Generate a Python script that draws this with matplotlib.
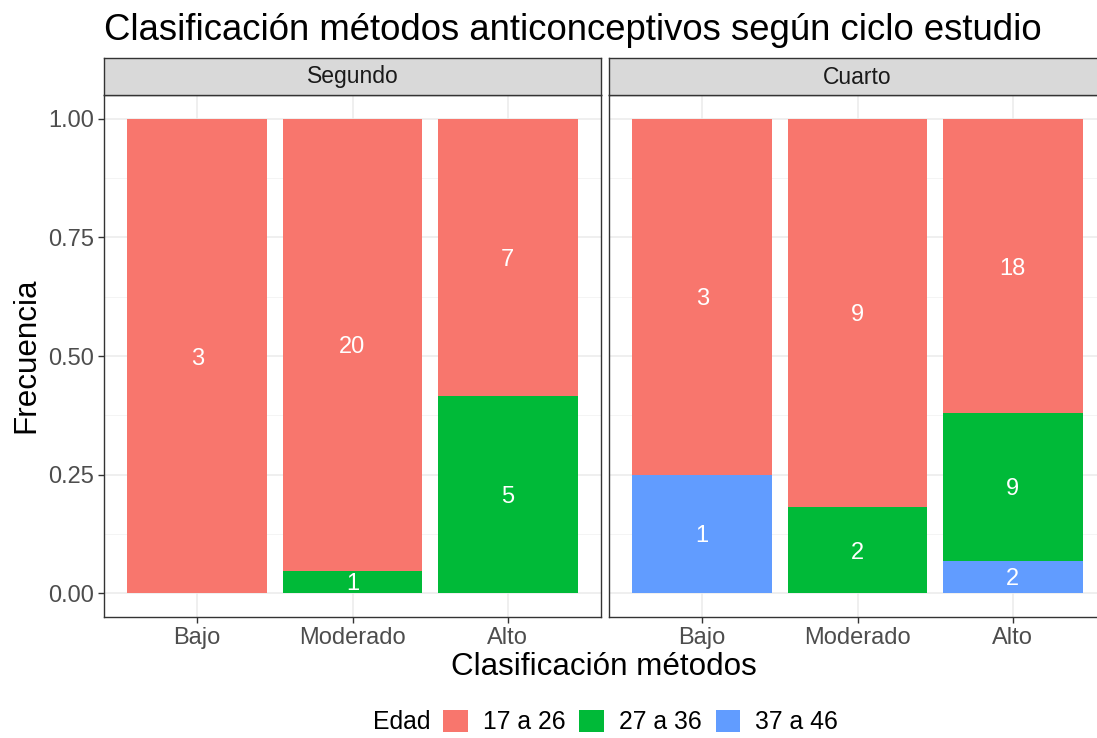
import matplotlib
matplotlib.use("Agg")
import matplotlib.pyplot as plt
from matplotlib.patches import Patch
import numpy as np

plt.rcParams['font.family'] = ['Liberation Sans', 'DejaVu Sans']

panels = ["Segundo", "Cuarto"]
categories = ["Bajo", "Moderado", "Alto"]
groups = ["17 a 26", "27 a 36", "37 a 46"]
colors = ["#F8766D", "#00BA38", "#619CFF"]

# counts per category (Bajo, Moderado, Alto)
seg_17_26 = [3, 20, 7]
seg_27_36 = [0, 1, 5]
seg_37_46 = [0, 0, 0]
cua_17_26 = [3, 9, 18]
cua_27_36 = [0, 2, 9]
cua_37_46 = [1, 0, 2]

counts = {
    "Segundo": [seg_17_26, seg_27_36, seg_37_46],
    "Cuarto": [cua_17_26, cua_27_36, cua_37_46],
}

W, H = 1097, 738
fig = plt.figure(figsize=(W / 100, H / 100), dpi=100)

panel_top, panel_bot = 95, 617
strip_top = 57.5
lefts = [104, 609]
pw = 497

for pi, name in enumerate(panels):
    ax = fig.add_axes([lefts[pi] / W, 1 - panel_bot / H, pw / W, (panel_bot - panel_top) / H])
    ax.set_xlim(0.4, 3.6)
    ax.set_ylim(-0.05, 1.05)
    ax.set_facecolor("white")
    for y in [0.125, 0.375, 0.625, 0.875]:
        ax.axhline(y, color="#F2F2F2", lw=0.6, zorder=0)
    for y in [0, 0.25, 0.5, 0.75, 1.0]:
        ax.axhline(y, color="#EBEBEB", lw=1.1, zorder=0)
    x = np.arange(1, 4)
    for xi in x:
        ax.axvline(xi, color="#EBEBEB", lw=1.1, zorder=0)
    data = np.array(counts[name], dtype=float)
    totals = data.sum(axis=0)
    fracs = data / totals
    bottom = np.zeros(3)
    for gi in [2, 1, 0]:
        h = fracs[gi]
        ax.bar(x, h, bottom=bottom, width=0.9, color=colors[gi], zorder=2, linewidth=0)
        for j in range(3):
            if data[gi][j] > 0:
                ax.text(x[j], bottom[j] + h[j] / 2, f"{int(data[gi][j])}", ha="center",
                        va="center_baseline", color="white", fontsize=17, zorder=3)
        bottom = bottom + h
    ax.set_xticks(x)
    ax.set_xticklabels(categories, fontsize=17, color="#4D4D4D")
    ax.set_yticks([0, 0.25, 0.5, 0.75, 1.0])
    if pi == 0:
        ax.set_yticklabels(["0.00", "0.25", "0.50", "0.75", "1.00"], fontsize=17, color="#4D4D4D")
    else:
        ax.tick_params(axis="y", left=False, labelleft=False)
    ax.tick_params(axis="both", color="#333333", length=4, width=1, pad=3)
    for s in ax.spines.values():
        s.set_color("#333333")
        s.set_linewidth(1.0)
    sax = fig.add_axes([lefts[pi] / W, 1 - panel_top / H, pw / W, (panel_top - strip_top) / H])
    sax.set_facecolor("#D9D9D9")
    sax.set_xticks([]); sax.set_yticks([])
    for s in sax.spines.values():
        s.set_color("#333333")
        s.set_linewidth(1.0)
    sax.text(0.5, 0.48, name, transform=sax.transAxes, ha="center", va="center",
             fontsize=16.5, color="#1A1A1A")

fig.text(104 / W, 1 - 31 / H, "Clasificación métodos anticonceptivos según ciclo estudio",
         fontsize=26.3, ha="left", va="center", color="black")
fig.text(26 / W, 1 - 355 / H, "Frecuencia", rotation=90, fontsize=22.6, ha="center", va="center")
fig.text(604 / W, 1 - 667 / H, "Clasificación métodos", fontsize=22.6, ha="center", va="center")

fig.text(402 / W, 1 - 722 / H, "Edad", fontsize=17.8, ha="center", va="center")
handles = [Patch(facecolor=c, edgecolor="none") for c in colors]
fig.legend(handles, groups, ncol=3, loc="center left", bbox_to_anchor=(443 / W, 1 - 722 / H),
           frameon=False, fontsize=17.8, handlelength=1.0, handleheight=1.0,
           handletextpad=0.6, columnspacing=0.57, borderaxespad=0, borderpad=0)

fig.savefig("out.png", dpi=100)
